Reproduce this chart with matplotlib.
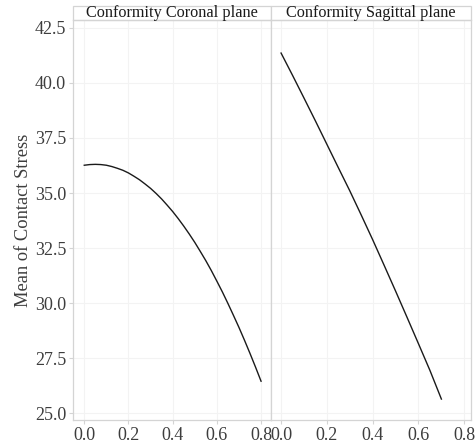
import matplotlib.pyplot as plt
from matplotlib.patches import Rectangle

# values
coronal_x = [0.0, 0.025, 0.05, 0.075, 0.1, 0.125, 0.15, 0.175, 0.2, 0.225,
             0.25, 0.275, 0.3, 0.325, 0.35, 0.375, 0.4, 0.425, 0.45, 0.475,
             0.5, 0.525, 0.55, 0.575, 0.6, 0.625, 0.65, 0.675, 0.7, 0.725,
             0.75, 0.775, 0.8]
coronal_y = [36.26, 36.29, 36.3, 36.29, 36.26, 36.2, 36.12, 36.03, 35.91,
             35.76, 35.6, 35.41, 35.21, 34.98, 34.73, 34.45, 34.16, 33.84,
             33.5, 33.14, 32.76, 32.35, 31.93, 31.48, 31.0, 30.51, 29.99,
             29.45, 28.9, 28.32, 27.72, 27.1, 26.46]

sagittal_x = [0.0, 0.05, 0.1, 0.15, 0.2, 0.25, 0.3, 0.35, 0.4, 0.45, 0.5,
              0.55, 0.6, 0.65, 0.7]
sagittal_y = [41.35, 40.34, 39.31, 38.27, 37.21, 36.15, 35.1, 34.0, 32.88,
              31.72, 30.55, 29.36, 28.16, 26.95, 25.65]

panel_titles = ["Conformity Coronal plane", "Conformity Sagittal plane"]
y_ticks = [25.0, 27.5, 30.0, 32.5, 35.0, 37.5, 40.0, 42.5]
x_ticks = [0.0, 0.2, 0.4, 0.6, 0.8]

plt.rcParams['font.family'] = ['Liberation Serif', 'DejaVu Serif']

fig = plt.figure(figsize=(4.77, 4.46), dpi=100)
W, H = 477, 446

def px_axes(x0, x1, y_top, y_bot):
    return fig.add_axes([x0 / W, 1 - y_bot / H, (x1 - x0) / W, (y_bot - y_top) / H])

ax1 = px_axes(73, 271, 20, 420)
ax2 = px_axes(271, 470.7, 20, 420)

border = '#d4d4d4'
series = [(ax1, coronal_x, coronal_y, (-0.051, 0.845)),
          (ax2, sagittal_x, sagittal_y, (-0.044, 0.828))]

for i, (ax, xs, ys, xl) in enumerate(series):
    ax.plot(xs, ys, color='#1a1a1a', lw=1.0, zorder=3)
    ax.set_xlim(*xl)
    ax.set_ylim(24.70, 42.85)
    ax.set_xticks(x_ticks)
    ax.set_xticklabels([f"{v:.1f}" for v in x_ticks])
    ax.set_yticks(y_ticks)
    ax.grid(True, color='#f3f3f3', lw=0.8, zorder=0)
    ax.set_axisbelow(True)
    for s in ax.spines.values():
        s.set_color(border)
        s.set_linewidth(0.9)
    ax.tick_params(axis='both', color=border, length=3, width=0.8,
                   labelsize=13, labelcolor='#3d3d3d', pad=2)
    if i == 0:
        ax.set_yticklabels([f"{v:.1f}" for v in y_ticks])
    else:
        ax.tick_params(axis='y', left=False, labelleft=False)

    # facet strip on top
    strip = Rectangle((0, 1.0), 1, 14 / 400, transform=ax.transAxes,
                      facecolor='white', edgecolor=border, lw=0.9,
                      clip_on=False)
    ax.add_patch(strip)
    ax.text(0.5, 1.0 + 6.5 / 400, panel_titles[i], transform=ax.transAxes,
            ha='center', va='center', fontsize=11.7, color='#1a1a1a')

ax1.set_ylabel("Mean of Contact Stress", fontsize=13.3, color='#3d3d3d',
               labelpad=2)

fig.savefig("out.png", dpi=100)
